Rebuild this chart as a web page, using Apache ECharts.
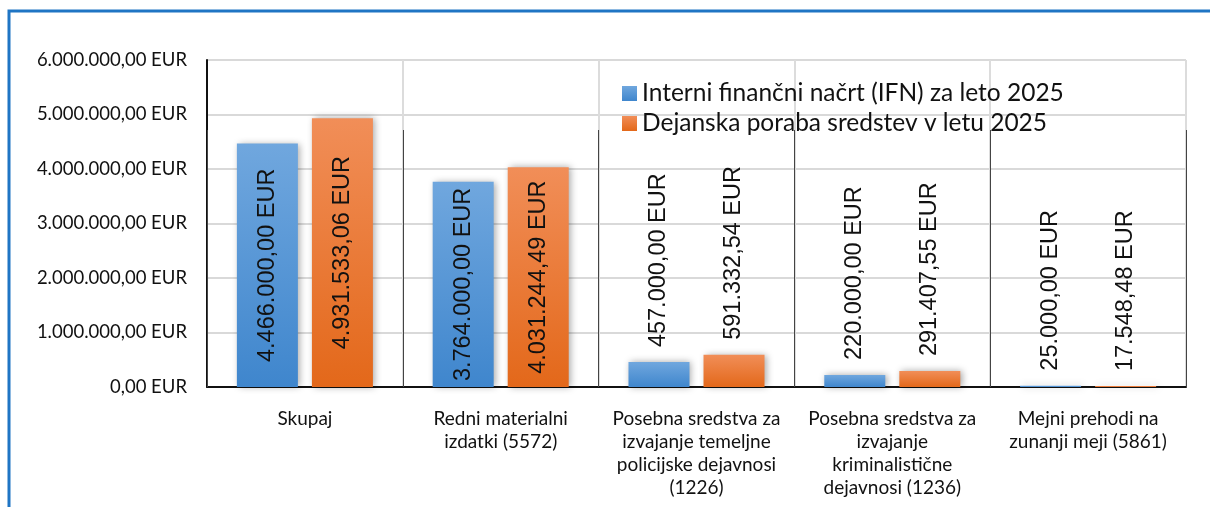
<!DOCTYPE html>
<html>
<head>
<meta charset="utf-8">
<script src="https://cdn.jsdelivr.net/npm/echarts@6/dist/echarts.min.js"></script>
<style>
  html, body { margin: 0; padding: 0; background: #fff; }
  #chart { width: 1210px; height: 507px; }
</style>
</head>
<body>
<div id="chart"></div>
<script>
const categories = [
  'Skupaj',
  'Redni materialni\nizdatki (5572)',
  'Posebna sredstva za\nizvajanje temeljne\npolicijske dejavnosi\n(1226)',
  'Posebna sredstva za\nizvajanje\nkriminalistične\ndejavnosi (1236)',
  'Mejni prehodi na\nzunanji meji (5861)'
]
const planValues = [4466000.00, 3764000.00, 457000.00, 220000.00, 25000.00]
const spentValues = [4931533.06, 4031244.49, 591332.54, 291407.55, 17548.48]
const seriesNames = ['Interni finančni načrt (IFN) za leto 2025', 'Dejanska poraba sredstev v letu 2025']
const yTicks = [0, 1000000, 2000000, 3000000, 4000000, 5000000, 6000000]

// 1234567.8 -> "1.234.567,80 EUR"
function eur(v) {
  const parts = Number(v).toFixed(2).split('.')
  const whole = parts[0].replace(/\B(?=(\d{3})+(?!\d))/g, '.')
  return whole + ',' + parts[1] + ' EUR'
}

// big bars get the label inside, small ones above the bar
function withLabels(values) {
  return values.map(v => {
    const big = v > 2000000
    return {
      value: v,
      label: big
        ? { position: 'inside', rotate: 90, align: 'center', verticalAlign: 'middle' }
        : { position: 'top', rotate: 90, align: 'left', verticalAlign: 'middle', distance: 15 }
    }
  })
}

const chart = echarts.init(document.getElementById('chart'))
chart.setOption({
  animation: false,
  textStyle: { fontFamily: 'Lato' },
  graphic: [{
    type: 'rect',
    shape: { x: 9, y: 11, width: 1400, height: 700 },
    style: { fill: 'none', stroke: '#1f75c4', lineWidth: 3 },
    silent: true
  }],
  color: ['#5b9bd5', '#ed7d31'],
  legend: {
    left: 617,
    top: 76,
    orient: 'vertical',
    itemWidth: 15,
    itemHeight: 15,
    itemGap: 5,
    icon: 'rect',
    textStyle: { fontFamily: 'Lato', fontSize: 24.5, color: '#111' },
    data: seriesNames
  },
  grid: { left: 207, right: 24, top: 60, bottom: 120 },
  xAxis: {
    type: 'category',
    data: categories,
    axisLine: { lineStyle: { color: '#111', width: 2 } },
    axisTick: { show: true, inside: true, length: 257, lineStyle: { color: '#444', width: 1 } },
    splitLine: { show: true, lineStyle: { color: '#dcdcdc', width: 2 } },
    axisLabel: {
      interval: 0,
      margin: 20,
      color: '#111',
      fontFamily: 'Lato',
      fontSize: 19,
      lineHeight: 23,
      verticalAlign: 'top'
    }
  },
  yAxis: {
    type: 'value',
    min: 0,
    max: yTicks[yTicks.length - 1],
    interval: yTicks[1] - yTicks[0],
    axisLine: { show: true, lineStyle: { color: '#111', width: 2 } },
    axisTick: { show: false },
    splitLine: { lineStyle: { color: '#d9d9d9', width: 2 } },
    axisLabel: {
      margin: 20,
      color: '#111',
      fontFamily: 'Lato',
      fontSize: 18.5,
      formatter: eur
    }
  },
  series: [
    {
      name: seriesNames[0],
      type: 'bar',
      barWidth: 61,
      barGap: '23%',
      data: withLabels(planValues),
      itemStyle: {
        color: new echarts.graphic.LinearGradient(0, 0, 0, 1, [
          { offset: 0, color: '#70a7de' },
          { offset: 1, color: '#3f86cd' }
        ]),
        shadowColor: 'rgba(0,0,0,0.35)',
        shadowBlur: 7,
        shadowOffsetX: 2
      },
      label: {
        show: true,
        formatter: p => eur(p.value),
        fontFamily: 'Liberation Sans',
        fontSize: 23.5,
        color: '#111'
      }
    },
    {
      name: seriesNames[1],
      type: 'bar',
      barWidth: 61,
      data: withLabels(spentValues),
      itemStyle: {
        color: new echarts.graphic.LinearGradient(0, 0, 0, 1, [
          { offset: 0, color: '#f18e58' },
          { offset: 1, color: '#e3681a' }
        ]),
        shadowColor: 'rgba(0,0,0,0.35)',
        shadowBlur: 7,
        shadowOffsetX: 2
      },
      label: {
        show: true,
        formatter: p => eur(p.value),
        fontFamily: 'Liberation Sans',
        fontSize: 23.5,
        color: '#111'
      }
    }
  ]
})
</script>
</body>
</html>
